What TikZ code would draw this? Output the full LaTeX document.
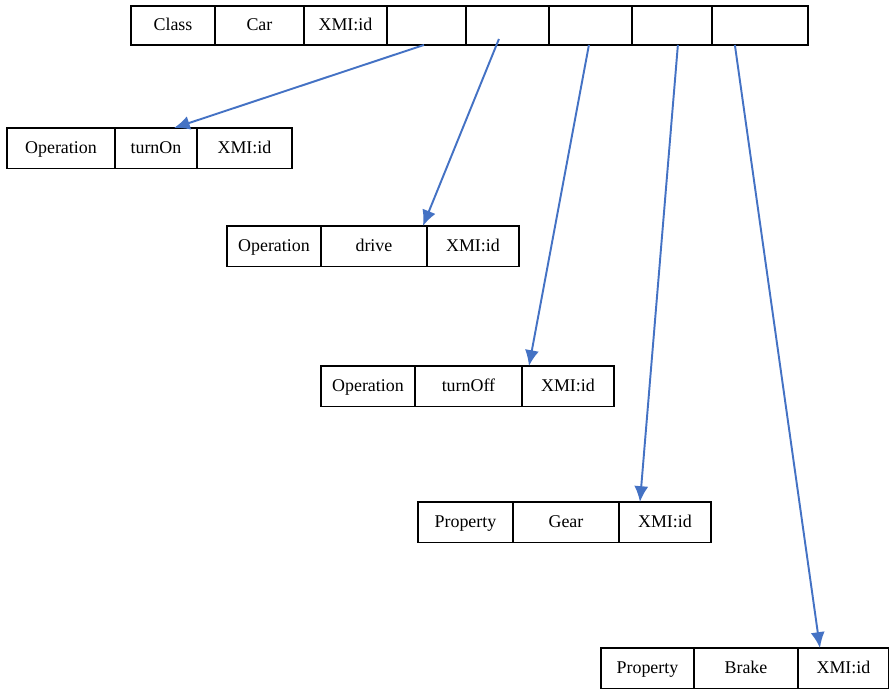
\documentclass[tikz,border=0pt]{standalone}
\usepackage{fontspec}
\setmainfont{Liberation Serif}
\usetikzlibrary{positioning, arrows.meta}
\definecolor{linkblue}{RGB}{68,114,196}
\begin{document}
\begin{tikzpicture}[x=0.02cm, y=-0.02cm]
    % Define styles
    \tikzset{
        cell/.style={draw, line width=0.8pt, outer sep=0pt, inner sep=0pt, minimum height=0.78cm, text height=1.6ex, text depth=0.4ex, font=\fontsize{10.2}{12}\selectfont},
        entry/.style={cell, minimum height=0.81cm},
        link/.style={-{Latex[length=9pt, width=8pt]}, line width=1.1pt, draw=linkblue}
    }
    \useasboundingbox (0,0) rectangle (889,689);

    % Class record
    \node[cell, minimum width=1.68cm, anchor=north west] (cls) at (131,6) {Class};
    \node[cell, minimum width=1.78cm, right=0pt of cls] (car) {Car};
    \node[cell, minimum width=1.66cm, right=0pt of car] (cid) {XMI:id};
    \node[cell, minimum width=1.58cm, right=0pt of cid] (s1) {};
    \node[cell, minimum width=1.66cm, right=0pt of s1] (s2) {};
    \node[cell, minimum width=1.66cm, right=0pt of s2] (s3) {};
    \node[cell, minimum width=1.60cm, right=0pt of s3] (s4) {};
    \node[cell, minimum width=1.92cm, right=0pt of s4] (s5) {};

    % Operation turnOn
    \node[entry, minimum width=2.16cm, anchor=north west] (k1) at (7,128) {Operation};
    \node[entry, minimum width=1.64cm, right=0pt of k1] (n1) {turnOn};
    \node[entry, minimum width=1.90cm, right=0pt of n1] (i1) {XMI:id};

    % Operation drive
    \node[entry, minimum width=1.88cm, anchor=north west] (k2) at (227,226) {Operation};
    \node[entry, minimum width=2.12cm, right=0pt of k2] (n2) {drive};
    \node[entry, minimum width=1.84cm, right=0pt of n2] (i2) {XMI:id};

    % Operation turnOff
    \node[entry, minimum width=1.88cm, anchor=north west] (k3) at (321,366) {Operation};
    \node[entry, minimum width=2.14cm, right=0pt of k3] (n3) {turnOff};
    \node[entry, minimum width=1.84cm, right=0pt of n3] (i3) {XMI:id};

    % Property Gear
    \node[entry, minimum width=1.90cm, anchor=north west] (k4) at (418,502) {Property};
    \node[entry, minimum width=2.12cm, right=0pt of k4] (n4) {Gear};
    \node[entry, minimum width=1.84cm, right=0pt of n4] (i4) {XMI:id};

    % Property Brake
    \node[entry, minimum width=1.86cm, anchor=north west] (k5) at (601,648) {Property};
    \node[entry, minimum width=2.08cm, right=0pt of k5] (n5) {Brake};
    \node[entry, minimum width=1.82cm, right=0pt of n5] (i5) {XMI:id};

    % Links from the class slots
    \draw[link] ([xshift=-0.05cm]s1.south) -- ([xshift=0.36cm]n1.north);
    \draw[link] ([xshift=-0.17cm, yshift=0.12cm]s2.south) -- ([xshift=-0.08cm]i2.north west);
    \draw[link] ([xshift=-0.03cm]s3.south) -- ([xshift=0.14cm]i3.north west);
    \draw[link] ([xshift=0.12cm]s4.south) -- ([xshift=0.42cm]i4.north west);
    \draw[link] ([xshift=-0.5cm]s5.south) -- ([xshift=0.44cm]i5.north west);
\end{tikzpicture}
\end{document}
